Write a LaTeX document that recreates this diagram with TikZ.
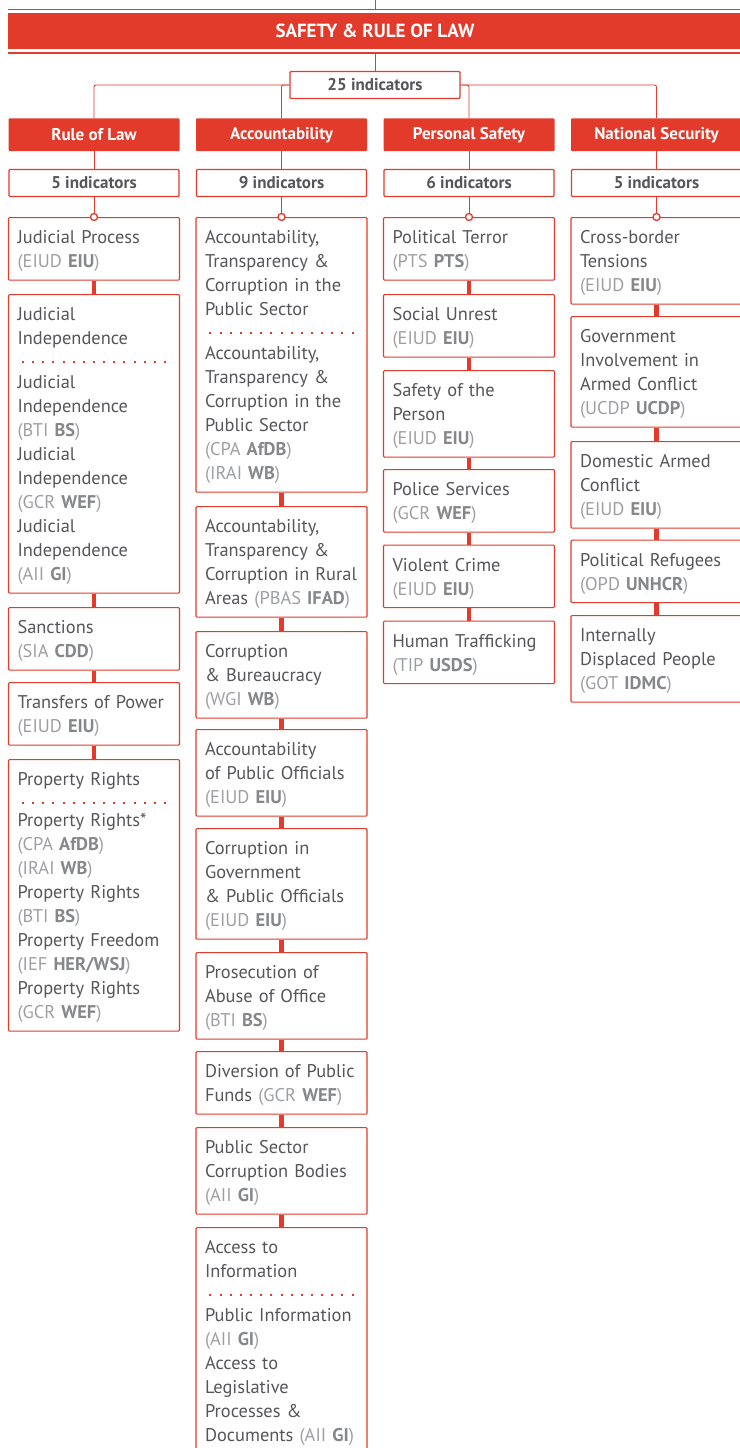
\documentclass[tikz,border=0pt]{standalone}
\usepackage{fontspec}
\setmainfont{PT Sans}
\definecolor{safred}{HTML}{E23A2B}
\definecolor{txtgrey}{HTML}{55565A}
\definecolor{srcgrey}{HTML}{9D9FA2}
\definecolor{srcbold}{HTML}{85878A}
\definecolor{topgrey}{HTML}{6D6E71}
\newcommand{\src}[2]{{\color{srcgrey}(#1 \textcolor{srcbold}{\bfseries #2})}}
\newcommand{\sepdots}{\leavevmode{\color{safred}\xleaders\hbox to 9.6pt{\hss\rule[5.5pt]{2pt}{2pt}\hss}\hskip 0pt plus 1fill}}
\newcommand{\topstrut}{\rule{0pt}{22pt}}
\newcommand{\botstrut}{\rule[-8.5pt]{0pt}{8.5pt}}

\begin{document}
\begin{tikzpicture}[x=1pt,y=-1pt,
		band/.style={fill=safred,text=white,minimum width=734pt,minimum height=36pt,inner sep=0pt,font=\bfseries\fontsize{19}{22}\selectfont},
		cathead/.style={fill=safred,text=white,minimum width=171pt,minimum height=32.7pt,inner sep=0pt,rounded corners=1pt,font=\bfseries\fontsize{17}{20}\selectfont},
		countbox/.style={draw=safred,fill=white,line width=1.1pt,text=txtgrey,minimum width=170pt,minimum height=27pt,inner sep=0pt,rounded corners=1pt,font=\bfseries\fontsize{17}{20}\selectfont},
		item/.style={draw=safred,fill=white,line width=1.1pt,text=txtgrey,anchor=north,text width=153pt,align=left,inner xsep=9pt,inner ysep=4pt,rounded corners=1pt,font=\fontsize{18.4}{24}\selectfont,execute at begin node=\topstrut,execute at end node=\botstrut},
		link/.style={draw=safred,line width=0.9pt},
		chain/.style={draw=safred,line width=4.5pt},
		ring/.style={draw=safred,fill=white,line width=1.3pt}]
	\useasboundingbox (0,0) rectangle (739,1448);
	\node[band] (band) at (375,31.3) {SAFETY \& RULE OF LAW};
	\draw[safred,line width=1.4pt] ([yshift=3.5pt]band.north west) -- ([yshift=3.5pt]band.north east);
	\draw[safred,line width=1.6pt] ([yshift=-3.5pt]band.south west) -- ([yshift=-3.5pt]band.south east);
	\coordinate (top) at (375,0);
	\draw[topgrey,line width=1pt] (top) -- ([yshift=4.5pt]band.north);
	\node[countbox] (all) at (375,85) {25 indicators};
	\draw[link] ([yshift=-3.5pt]band.south) -- (all.north);
	\node[cathead] (rol) at (94,134.7) {Rule of Law};
	\node[cathead] (acc) at (281.5,134.7) {Accountability};
	\node[cathead] (psafe) at (469,134.7) {Personal Safety};
	\node[cathead] (nsec) at (656.5,134.7) {National Security};
	\draw[link,rounded corners=2pt] (rol.north) |- (all.west);
	\draw[link,rounded corners=2pt] (acc.north) |- (all.west);
	\draw[link,rounded corners=2pt] (psafe.north) |- (all.east);
	\draw[link,rounded corners=2pt] (nsec.north) |- (all.east);
	\node[countbox] (rolcount) at (94,183) {5 indicators};
	\node[countbox] (acccount) at (281.5,183) {9 indicators};
	\node[countbox] (psafecount) at (469,183) {6 indicators};
	\node[countbox] (nseccount) at (656.5,183) {5 indicators};
	\draw[link] (rol) -- (rolcount);
	\draw[link] (acc) -- (acccount);
	\draw[link] (psafe) -- (psafecount);
	\draw[link] (nsec) -- (nseccount);

	\node[item] (rol1) at (94,217) {Judicial Process\\\src{EIUD}{EIU}};
	\node[item] (rol2) at (94,294) {Judicial\\Independence\\\sepdots\\[-4pt]Judicial\\Independence\\\src{BTI}{BS}\\Judicial\\Independence\\\src{GCR}{WEF}\\Judicial\\Independence\\\src{AII}{GI}};
	\node[item] (rol3) at (94,607) {Sanctions\\\src{SIA}{CDD}};
	\node[item] (rol4) at (94,682) {Transfers of Power\\\src{EIUD}{EIU}};
	\node[item] (rol5) at (94,759) {Property Rights\\\sepdots\\[-7pt]Property Rights*\\\src{CPA}{AfDB}\\\src{IRAI}{WB}\\Property Rights\\\src{BTI}{BS}\\Property Freedom\\\src{IEF}{HER/WSJ}\\Property Rights\\\src{GCR}{WEF}};

	\node[item] (acc1) at (281.5,217) {Accountability,\\Transparency \&\\Corruption in the\\Public Sector\\\sepdots\\[-4pt]Accountability,\\Transparency \&\\Corruption in the\\Public Sector\\\src{CPA}{AfDB}\\\src{IRAI}{WB}};
	\node[item] (acc2) at (281.5,506) {Accountability,\\Transparency \&\\Corruption in Rural\\Areas \src{PBAS}{IFAD}};
	\node[item] (acc3) at (281.5,631) {Corruption\\\& Bureaucracy\\\src{WGI}{WB}};
	\node[item] (acc4) at (281.5,729) {Accountability\\of Public Officials\\\src{EIUD}{EIU}};
	\node[item] (acc5) at (281.5,828) {Corruption in\\Government\\\& Public Officials\\\src{EIUD}{EIU}};
	\node[item] (acc6) at (281.5,952) {Prosecution of\\Abuse of Office\\\src{BTI}{BS}};
	\node[item] (acc7) at (281.5,1051) {Diversion of Public\\Funds \src{GCR}{WEF}};
	\node[item] (acc8) at (281.5,1127) {Public Sector\\Corruption Bodies\\\src{AII}{GI}};
	\node[item] (acc9) at (281.5,1227) {Access to\\Information\\\sepdots\\[-4pt]Public Information\\\src{AII}{GI}\\Access to\\Legislative\\Processes \&\\Documents \src{AII}{GI}};

	\node[item] (psafe1) at (469,217) {Political Terror\\\src{PTS}{PTS}};
	\node[item] (psafe2) at (469,294) {Social Unrest\\\src{EIUD}{EIU}};
	\node[item] (psafe3) at (469,370) {Safety of the\\Person\\\src{EIUD}{EIU}};
	\node[item] (psafe4) at (469,469) {Police Services\\\src{GCR}{WEF}};
	\node[item] (psafe5) at (469,544.5) {Violent Crime\\\src{EIUD}{EIU}};
	\node[item] (psafe6) at (469,620.5) {Human Trafficking\\\src{TIP}{USDS}};

	\node[item] (nsec1) at (656.5,217) {Cross-border\\Tensions\\\src{EIUD}{EIU}};
	\node[item] (nsec2) at (656.5,316) {Government\\Involvement in\\Armed Conflict\\\src{UCDP}{UCDP}};
	\node[item] (nsec3) at (656.5,441) {Domestic Armed\\Conflict\\\src{EIUD}{EIU}};
	\node[item] (nsec4) at (656.5,539.5) {Political Refugees\\\src{OPD}{UNHCR}};
	\node[item] (nsec5) at (656.5,615) {Internally\\Displaced People\\\src{GOT}{IDMC}};

	\draw[link] (rolcount) -- (rol1.north);
	\draw[link] (acccount) -- (acc1.north);
	\draw[link] (psafecount) -- (psafe1.north);
	\draw[link] (nseccount) -- (nsec1.north);
	\filldraw[ring] (rol1.north) circle (3.5pt);
	\filldraw[ring] (acc1.north) circle (3.5pt);
	\filldraw[ring] (psafe1.north) circle (3.5pt);
	\filldraw[ring] (nsec1.north) circle (3.5pt);

	\draw[chain] (rol1) -- (rol2) (rol2) -- (rol3) (rol3) -- (rol4) (rol4) -- (rol5);
	\draw[chain] (acc1) -- (acc2) (acc2) -- (acc3) (acc3) -- (acc4) (acc4) -- (acc5) (acc5) -- (acc6) (acc6) -- (acc7) (acc7) -- (acc8) (acc8) -- (acc9);
	\draw[chain] (psafe1) -- (psafe2) (psafe2) -- (psafe3) (psafe3) -- (psafe4) (psafe4) -- (psafe5) (psafe5) -- (psafe6);
	\draw[chain] (nsec1) -- (nsec2) (nsec2) -- (nsec3) (nsec3) -- (nsec4) (nsec4) -- (nsec5);
\end{tikzpicture}
\end{document}
